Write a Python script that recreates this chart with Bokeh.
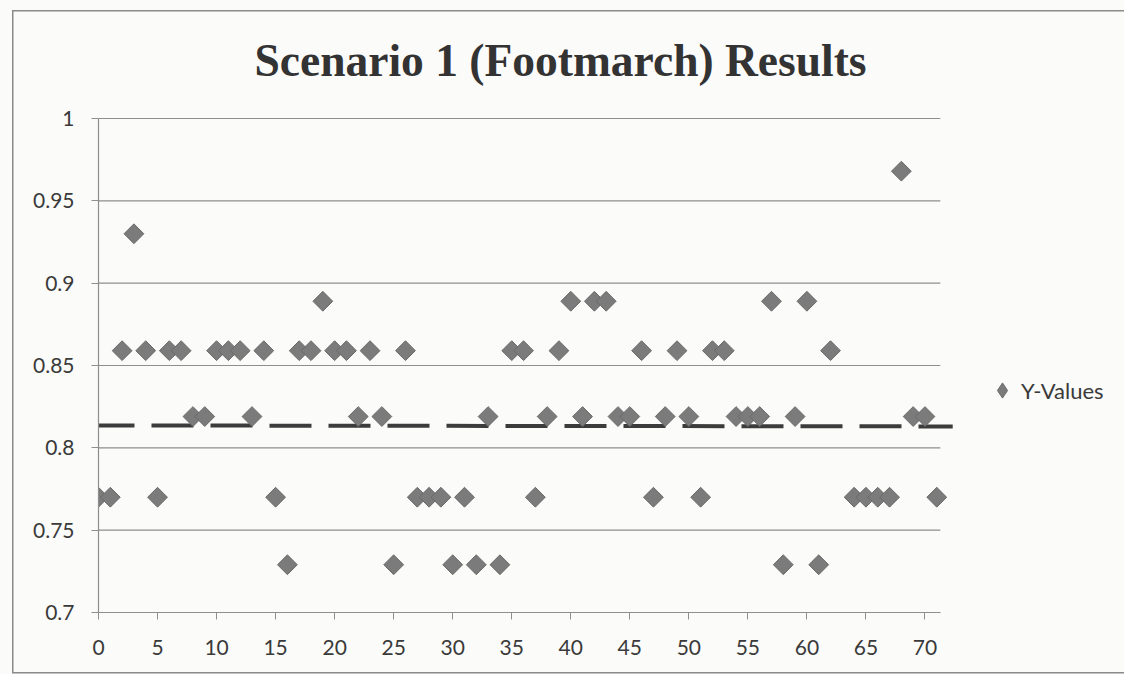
from bokeh.plotting import figure
from bokeh.models import Range1d, FixedTicker, Legend, LegendItem
from bokeh.embed import file_html
from bokeh.resources import INLINE
import numpy as np

# ---- data ----
x_vals = [0, 1, 2, 3, 4, 5, 6, 7, 8, 9,
          10, 11, 12, 13, 14, 15, 16, 17, 18, 19,
          20, 21, 22, 23, 24, 25, 26, 27, 28, 29,
          30, 31, 32, 33, 34, 35, 36, 37, 38, 39,
          40, 41, 42, 43, 44, 45, 46, 47, 48, 49,
          50, 51, 52, 53, 54, 55, 56, 57, 58, 59,
          60, 61, 62, 64, 65, 66, 67, 68, 69, 70, 71]
y_vals = [0.770, 0.770, 0.859, 0.930, 0.859, 0.770, 0.859, 0.859, 0.819, 0.819,
          0.859, 0.859, 0.859, 0.819, 0.859, 0.770, 0.729, 0.859, 0.859, 0.889,
          0.859, 0.859, 0.819, 0.859, 0.819, 0.729, 0.859, 0.770, 0.770, 0.770,
          0.729, 0.770, 0.729, 0.819, 0.729, 0.859, 0.859, 0.770, 0.819, 0.859,
          0.889, 0.819, 0.889, 0.889, 0.819, 0.819, 0.859, 0.770, 0.819, 0.859,
          0.819, 0.770, 0.859, 0.859, 0.819, 0.819, 0.819, 0.889, 0.729, 0.819,
          0.889, 0.729, 0.859, 0.770, 0.770, 0.770, 0.770, 0.968, 0.819, 0.819, 0.770]
trend_x = [0, 72.35]
trend_y = [0.8136, 0.8130]
x_axis_max = 71.3
x_ticks = [0, 5, 10, 15, 20, 25, 30, 35, 40, 45, 50, 55, 60, 65, 70]
y_ticks = [0.7, 0.75, 0.8, 0.85, 0.9, 0.95, 1.0]
y_tick_labels = ["0.7", "0.75", "0.8", "0.85", "0.9", "0.95", "1"]
series_name = "Y-Values"
title_text = "Scenario 1 (Footmarch) Results"

BG = "#fbfbf9"
GRID = "#8e8e8e"
TXT = "#3a3a3a"
FRAME_LINE = "#8a8a8a"
MARK_FILL = "#7b7b7b"
MARK_LINE = "#6a6a6a"

p = figure(width=1124, height=674, x_range=Range1d(0, 86.9), y_range=Range1d(0.7, 1.0006),
           output_backend="svg", toolbar_location=None,
           min_border_left=98, min_border_right=0, min_border_top=116, min_border_bottom=62)
p.margin = 0
grad = "linear-gradient(%s,%s)" % (FRAME_LINE, FRAME_LINE)
p.styles = {
    "background-color": BG,
    "background-image": ", ".join([grad, grad, grad]),
    "background-size": "1.5px 663px, 1112px 1.5px, 1112px 1.5px",
    "background-position": "12px 10px, 12px 10px, 12px 672px",
    "background-repeat": "no-repeat",
}
p.background_fill_color = BG
p.border_fill_color = None
p.outline_line_color = None

p.title.text = title_text
p.title.align = "left"
p.title.offset = 156
p.title.text_font = "Liberation Serif"
p.title.text_font_style = "bold"
p.title.text_font_size = "45.5px"
p.title.text_color = "#333333"
p.title.standoff = 64

p.xgrid.grid_line_color = None
p.ygrid.grid_line_color = None
# horizontal gridlines that stop at the end of the x axis
p.segment(x0=[0] * len(y_ticks), x1=[x_axis_max] * len(y_ticks), y0=y_ticks, y1=y_ticks,
          line_color=GRID, line_width=1.2)

p.xaxis.ticker = FixedTicker(ticks=x_ticks)
p.xaxis.bounds = (0, x_axis_max)
p.yaxis.ticker = FixedTicker(ticks=y_ticks)
p.yaxis.bounds = (0.7, 1.0)
p.yaxis.major_label_overrides = dict(zip(y_ticks, y_tick_labels))
for ax in (p.xaxis, p.yaxis):
    ax.axis_line_color = GRID
    ax.axis_line_width = 1.2
    ax.major_tick_line_color = GRID
    ax.major_tick_in = 0
    ax.major_tick_out = 7
    ax.minor_tick_line_color = None
    ax.major_label_text_font = "Lato"
    ax.major_label_text_font_size = "21px"
    ax.major_label_text_color = TXT
p.xaxis.major_label_standoff = 20
p.yaxis.major_label_standoff = 17

p.line(trend_x, trend_y, line_color="#3c3c3c", line_width=4,
       line_dash="42 17", line_dash_offset=6)

# diamond marker used as the legend swatch (hidden beneath the rotated squares)
r_leg = p.scatter(x_vals, y_vals, marker="diamond", size=13,
                  fill_color=MARK_FILL, line_color=MARK_LINE, line_width=1)
r = p.scatter(x_vals, y_vals, marker="square", size=14, angle=np.pi / 4,
              fill_color=MARK_FILL, line_color=MARK_LINE, line_width=1)

legend = Legend(items=[LegendItem(label=series_name, renderers=[r_leg])],
                location=(885, 203), border_line_color=None, background_fill_alpha=0,
                label_text_font="Lato", label_text_font_size="22px", label_text_color=TXT,
                glyph_width=38, glyph_height=38, label_standoff=0, padding=0, margin=0)
p.add_layout(legend)

open("out.html", "w").write(file_html(p, INLINE))
